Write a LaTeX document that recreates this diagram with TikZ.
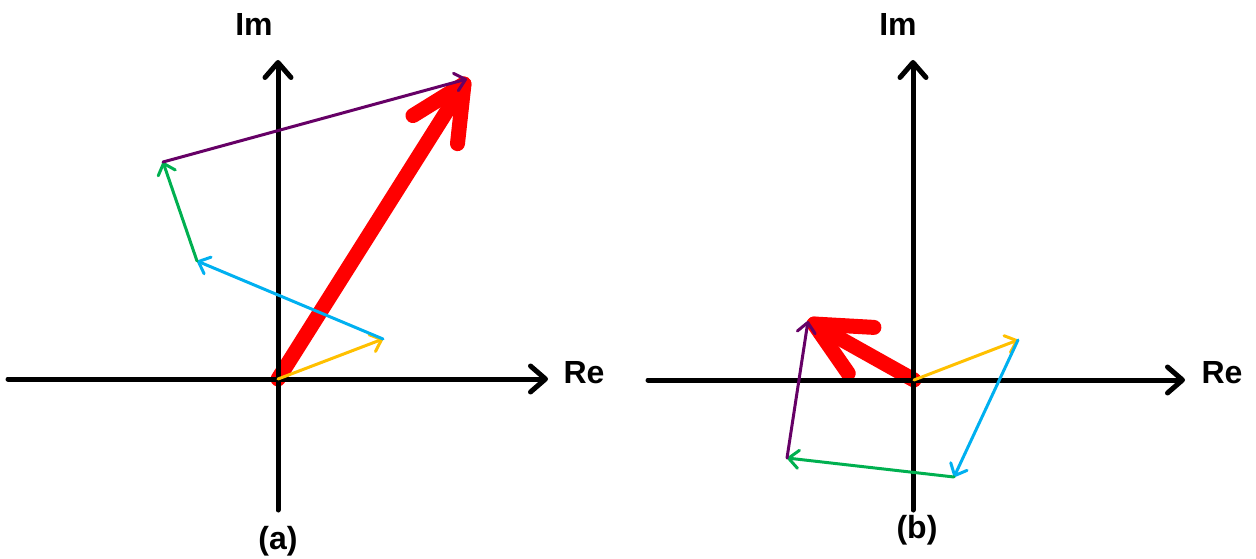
\documentclass[tikz,border=0pt]{standalone}
\usepackage{fontspec}
\setmainfont{Liberation Sans}
\usetikzlibrary{arrows.meta,calc}
\definecolor{vyellow}{HTML}{FFC000}
\definecolor{vblue}{HTML}{00B0F0}
\definecolor{vgreen}{HTML}{00B050}
\definecolor{vpurple}{HTML}{660066}
\begin{document}
\begin{tikzpicture}[x=1pt,y=-1pt,line join=round,line cap=round,
	axis/.style={line width=5pt,-{Straight Barb[length=15pt,width=26pt,round]}},
	vec/.style={line width=3pt,-{Straight Barb[length=10pt,width=18pt,round]}},
	big/.style={red,line width=15pt},
	lbl/.style={font=\fontsize{32}{36}\selectfont\bfseries,anchor=base}]

	\useasboundingbox (0,0) rectangle (1256,559);

	% Hình (a): các điểm
	\coordinate (Oa) at (278,379);
	\coordinate (Ya) at (383,339);   % ngọn vectơ vàng
	\coordinate (Ba) at (197,261);   % ngọn vectơ xanh dương
	\coordinate (Ga) at (163,162);   % ngọn vectơ xanh lá
	\coordinate (Pa) at (467,79);    % ngọn vectơ tím
	\coordinate (Ra) at (464,84);    % ngọn vectơ đỏ (tổng)
	\coordinate (xa0) at (8,379);
	\coordinate (xa1) at (548,379);
	\coordinate (ya0) at (278,510);
	\coordinate (ya1) at (278,60);

	% Vectơ tổng (đỏ)
	\draw[big] (Oa) -- (Ra);
	\draw[big] ($(Ra)!60pt!26:(Oa)$) -- (Ra) -- ($(Ra)!60pt!-26:(Oa)$);

	% Trục tọa độ
	\draw[axis] (xa0) -- (xa1);
	\draw[axis] (ya0) -- (ya1);
	\node[lbl] (rea) at (584,383) {Re};
	\node[lbl] (ima) at (254,36) {Im};
	\node[lbl] (capa) at (278,549) {(a)};

	% Các vectơ thành phần
	\draw[vec, vyellow] (Oa) -- (Ya);
	\draw[vec, vblue] (Ya) -- (Ba);
	\draw[vec, vgreen] (Ba) -- (Ga);
	\draw[vec, vpurple] (Ga) -- (Pa);

	% Hình (b): các điểm
	\coordinate (Ob) at (914,380);
	\coordinate (Yb) at (1018,340);
	\coordinate (Bb) at (954,477);
	\coordinate (Gb) at (787,458);
	\coordinate (Pb) at (808,321);
	\coordinate (Rb) at (814,324);
	\coordinate (xb0) at (648,380);
	\coordinate (xb1) at (1185,380);
	\coordinate (yb0) at (913,510);
	\coordinate (yb1) at (913,60);

	% Vectơ tổng (đỏ)
	\draw[big] (Ob) -- (Rb);
	\draw[big] ($(Rb)!60pt!26:(Ob)$) -- (Rb) -- ($(Rb)!60pt!-26:(Ob)$);

	% Trục tọa độ
	\draw[axis] (xb0) -- (xb1);
	\draw[axis] (yb0) -- (yb1);
	\node[lbl] (reb) at (1222,383) {Re};
	\node[lbl] (imb) at (898,36) {Im};
	\node[lbl] (capb) at (917,538) {(b)};

	% Các vectơ thành phần
	\draw[vec, vyellow] (Ob) -- (Yb);
	\draw[vec, vblue] (Yb) -- (Bb);
	\draw[vec, vgreen] (Bb) -- (Gb);
	\draw[vec, vpurple] (Gb) -- (Pb);

\end{tikzpicture}
\end{document}
